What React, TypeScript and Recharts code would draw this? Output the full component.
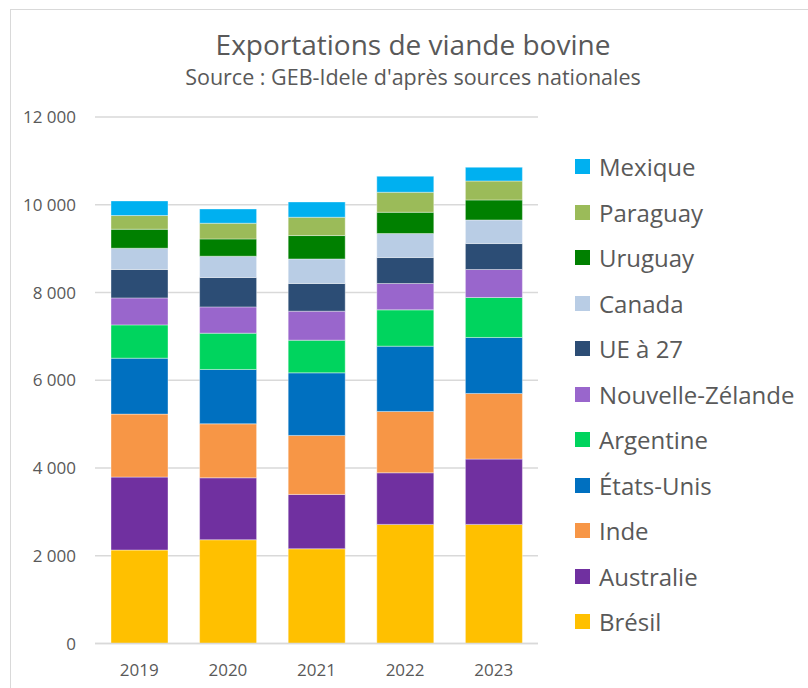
import React from "react";
import { BarChart, Bar, XAxis, YAxis, CartesianGrid, Legend } from "recharts";

// Exportations de viande bovine (milliers de tonnes éq. carcasse)
const years = ["2019", "2020", "2021", "2022", "2023"];

const bresil = [2130, 2365, 2159, 2715, 2715];
const australie = [1663, 1412, 1239, 1176, 1488];
const inde = [1435, 1230, 1344, 1398, 1496];
const etatsUnis = [1275, 1239, 1427, 1488, 1276];
const argentine = [759, 827, 744, 827, 911];
const nouvelleZelande = [615, 599, 661, 601, 638];
const ue27 = [647, 670, 631, 592, 592];
const canada = [485, 485, 560, 547, 538];
const uruguay = [433, 394, 533, 485, 455];
const paraguay = [312, 358, 417, 456, 433];
const mexique = [333, 325, 349, 364, 312];

const yTicks = [0, 2000, 4000, 6000, 8000, 10000, 12000];

const series = [
  { key: "Brésil", values: bresil, color: "#FFC000" },
  { key: "Australie", values: australie, color: "#7030A0" },
  { key: "Inde", values: inde, color: "#F79646" },
  { key: "États-Unis", values: etatsUnis, color: "#0070C0" },
  { key: "Argentine", values: argentine, color: "#00D45E" },
  { key: "Nouvelle-Zélande", values: nouvelleZelande, color: "#9966CC" },
  { key: "UE à 27", values: ue27, color: "#2C4D75" },
  { key: "Canada", values: canada, color: "#B9CDE5" },
  { key: "Uruguay", values: uruguay, color: "#008000" },
  { key: "Paraguay", values: paraguay, color: "#9BBB59" },
  { key: "Mexique", values: mexique, color: "#00B0F0" },
];

const data = years.map((year, i) => {
  const row: Record<string, string | number> = { year };
  series.forEach((s) => {
    row[s.key] = s.values[i];
  });
  return row;
});

const FONT = "'Open Sans', sans-serif";
const TEXT = "#595959";

const formatTick = (v: number) =>
  v >= 1000 ? `${Math.floor(v / 1000)} ${String(v % 1000).padStart(3, "0")}` : String(v);

function LegendList() {
  return (
    <div style={{ fontFamily: FONT }}>
      {[...series].reverse().map((s) => (
        <div
          key={s.key}
          style={{ display: "flex", alignItems: "center", height: 45.5 }}
        >
          <span
            style={{
              display: "inline-block",
              width: 15,
              height: 15,
              background: s.color,
              marginRight: 9,
            }}
          />
          <span style={{ fontSize: 24, color: TEXT, whiteSpace: "nowrap" }}>
            {s.key}
          </span>
        </div>
      ))}
    </div>
  );
}

export default function App() {
  return (
    <div
      style={{
        position: "absolute",
        left: 0,
        top: 0,
        width: 808,
        height: 688,
        overflow: "hidden",
        background: "#fff",
      }}
    >
      <div
        style={{
          position: "absolute",
          left: 10,
          top: 9,
          width: 900,
          height: 900,
          border: "1.5px solid #d9d9d9",
        }}
      />
      <div
        style={{
          position: "absolute",
          left: 0,
          width: 826,
          top: 24,
          textAlign: "center",
          fontFamily: FONT,
          fontSize: 28,
          color: TEXT,
          lineHeight: "40px",
        }}
      >
        Exportations de viande bovine
      </div>
      <div
        style={{
          position: "absolute",
          left: 0,
          width: 826,
          top: 62,
          textAlign: "center",
          fontFamily: FONT,
          fontSize: 21.5,
          color: TEXT,
          lineHeight: "30px",
        }}
      >
        Source : GEB-Idele d'après sources nationales
      </div>
      <div style={{ position: "absolute", left: 0, top: 0 }}>
        <BarChart
          width={808}
          height={688}
          data={data}
          margin={{ top: 117, right: 270, bottom: 14.5, left: 25 }}
        >
          <CartesianGrid vertical={false} stroke="#d9d9d9" strokeWidth={1.5} />
          <XAxis
            dataKey="year"
            height={30}
            axisLine={{ stroke: "#d9d9d9", strokeWidth: 1.5 }}
            tickLine={false}
            tickSize={0}
            tickMargin={20}
            tick={{ fill: TEXT, fontSize: 17, fontFamily: FONT }}
          />
          <YAxis
            width={70}
            domain={[0, 12000]}
            ticks={yTicks}
            axisLine={false}
            tickLine={false}
            tickSize={0}
            tickMargin={19}
            tickFormatter={formatTick}
            tick={{ fill: TEXT, fontSize: 17, fontFamily: FONT }}
          />
          {series.map((s) => (
            <Bar
              key={s.key}
              dataKey={s.key}
              stackId="a"
              fill={s.color}
              barSize={57}
              stroke="#ffffff"
              strokeOpacity={0.5}
              strokeWidth={0.75}
              isAnimationActive={false}
            />
          ))}
          <Legend
            layout="vertical"
            align="center"
            verticalAlign="middle"
            content={() => <LegendList />}
            wrapperStyle={{ left: 575, top: 144, width: 233 }}
          />
        </BarChart>
      </div>
    </div>
  );
}
